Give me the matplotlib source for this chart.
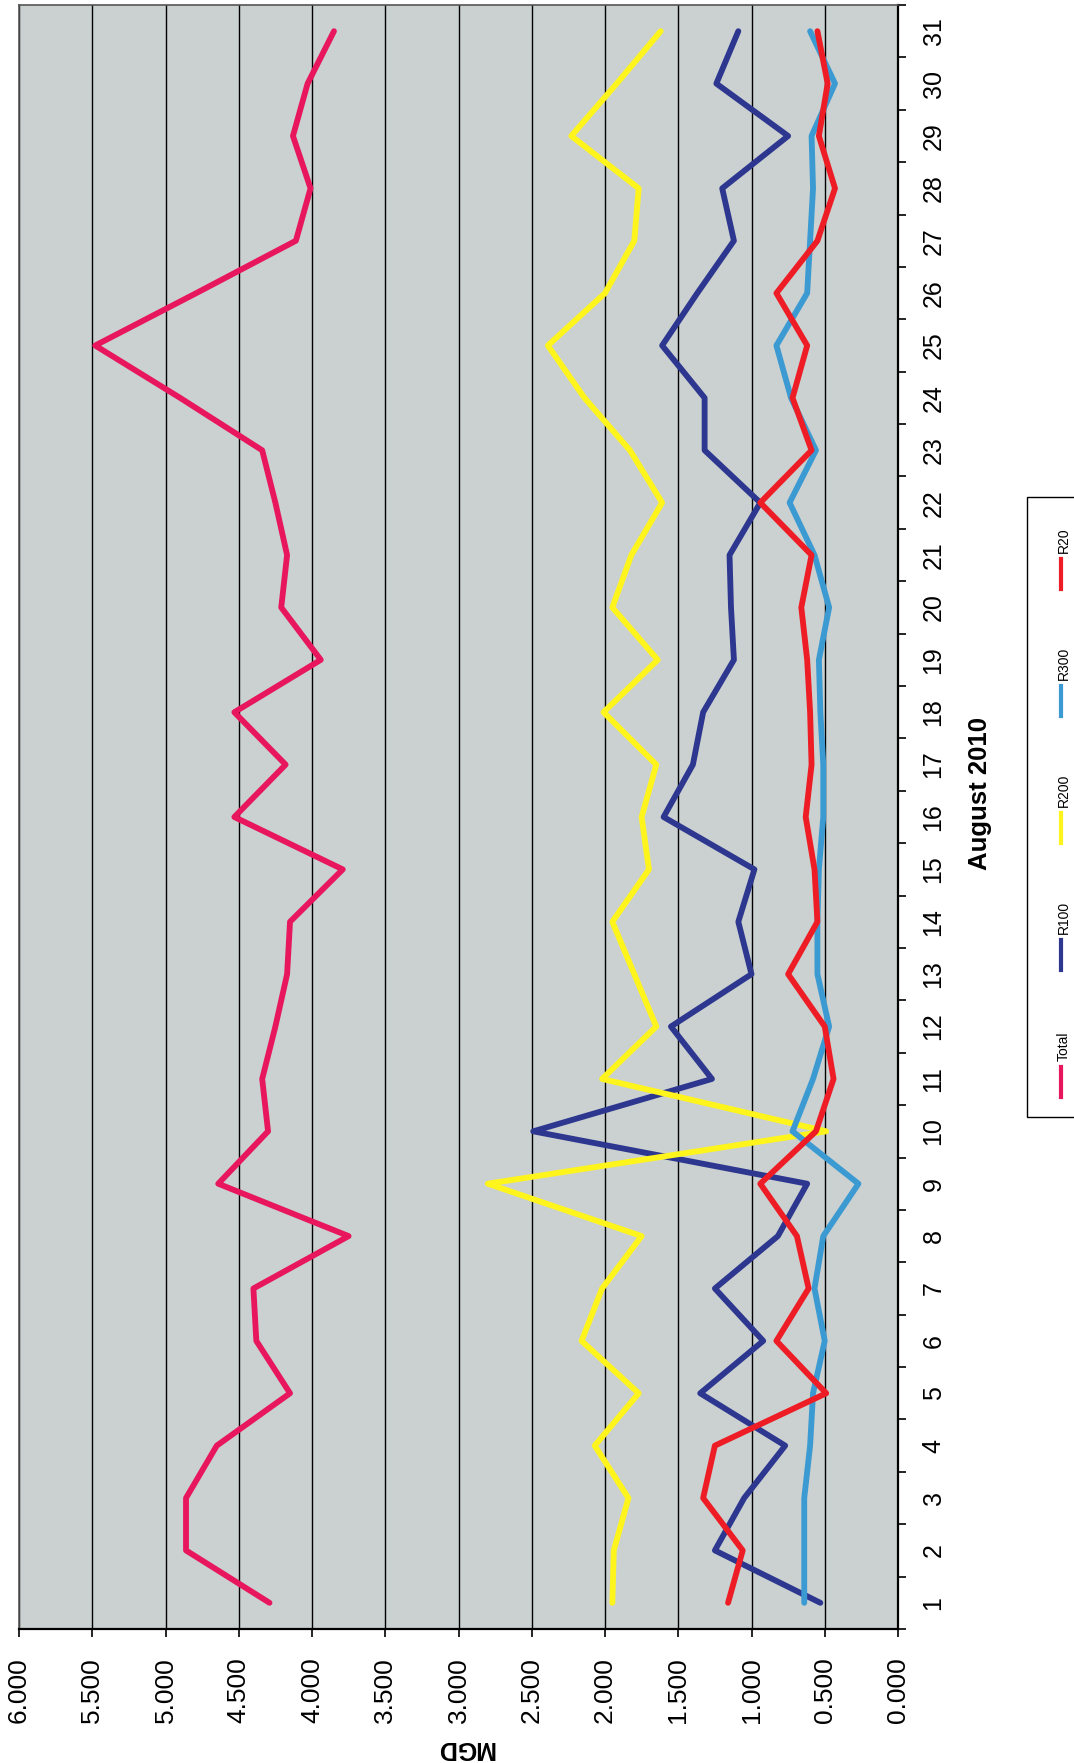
import matplotlib
matplotlib.use("Agg")
import matplotlib.pyplot as plt
from matplotlib.lines import Line2D
from matplotlib.patches import Rectangle
import numpy as np

plt.rcParams['font.family'] = ['Liberation Sans', 'DejaVu Sans']

days = list(range(1, 32))
day_labels = [str(d) for d in days]
mgd_ticks = [0.0, 0.5, 1.0, 1.5, 2.0, 2.5, 3.0, 3.5, 4.0, 4.5, 5.0, 5.5, 6.0]

total = [4.29, 4.86, 4.86, 4.65, 4.15, 4.38, 4.40, 3.75, 4.64, 4.30, 4.34,
         4.25, 4.17, 4.15, 3.79, 4.53, 4.18, 4.53, 3.94, 4.21, 4.17, 4.25,
         4.34, 4.90, 5.48, 4.79, 4.11, 4.01, 4.13, 4.03, 3.85]
r100 = [0.53, 1.25, 1.05, 0.77, 1.35, 0.92, 1.25, 0.82, 0.62, 2.49, 1.27,
        1.55, 1.00, 1.09, 0.98, 1.60, 1.40, 1.33, 1.12, 1.14, 1.15, 0.94,
        1.32, 1.32, 1.61, 1.37, 1.12, 1.20, 0.75, 1.24, 1.09]
r200 = [1.95, 1.94, 1.84, 2.07, 1.77, 2.16, 2.02, 1.75, 2.80, 0.49, 2.02,
        1.65, 1.80, 1.95, 1.70, 1.75, 1.65, 2.01, 1.64, 1.95, 1.82, 1.61,
        1.83, 2.14, 2.39, 2.00, 1.80, 1.77, 2.23, 1.92, 1.62]
r300 = [0.64, 0.64, 0.64, 0.60, 0.58, 0.50, 0.57, 0.51, 0.27, 0.72, 0.58,
        0.47, 0.55, 0.55, 0.54, 0.51, 0.51, 0.53, 0.54, 0.47, 0.57, 0.74,
        0.56, 0.73, 0.83, 0.62, 0.60, 0.58, 0.59, 0.43, 0.60]
r20 = [1.16, 1.06, 1.33, 1.25, 0.49, 0.83, 0.61, 0.69, 0.94, 0.56, 0.44,
       0.50, 0.75, 0.55, 0.57, 0.63, 0.59, 0.60, 0.62, 0.66, 0.59, 0.94,
       0.59, 0.72, 0.62, 0.83, 0.55, 0.43, 0.54, 0.48, 0.55]

series_names = ["Total", "R100", "R200", "R300", "R20"]
series_values = [total, r100, r200, r300, r20]
series_colors = ["#e8175d", "#2e3790", "#fff51c", "#3c9ad2", "#ee1c25"]

W, H = 1074, 1763
fig = plt.figure(figsize=(W / 100, H / 100), dpi=100)
fig.patch.set_facecolor("white")


def fx(px):
    return px / W


def fy(py):
    return 1 - py / H


# The chart is laid out sideways: MGD runs right-to-left along the bottom,
# the days of the month run upward along the right side.
ax_l, ax_r, ax_t, ax_b = 19, 898, 5, 1629
ax = fig.add_axes([fx(ax_l), fy(ax_b), fx(ax_r - ax_l), (ax_b - ax_t) / H])
ax.set_facecolor("#cad1d0")

for name, vals, col in zip(series_names, series_values, series_colors):
    ax.plot(vals, days, color=col, lw=4.2, solid_capstyle="round",
            solid_joinstyle="round", label=name)

ax.set_xlim(6, 0)
ax.set_ylim(0.5, 31.5)

# MGD axis
ax.set_xticks(mgd_ticks)
ax.set_xticklabels([f"{v:.3f}" for v in mgd_ticks], rotation=90, fontsize=19)
ax.tick_params(axis="x", direction="out", length=6, width=1.2, pad=14,
               colors="black")
ax.grid(axis="x", color="black", lw=1.0)
ax.set_axisbelow(True)

# day axis: ticks between days, labels centred on each day
ax.yaxis.tick_right()
ax.set_yticks(np.arange(0.5, 32, 1.0))
ax.set_yticklabels([])
ax.set_yticks(days, minor=True)
ax.set_yticklabels(day_labels, minor=True, rotation=90, fontsize=18,
                   va="center", ha="left")
ax.tick_params(axis="y", which="major", direction="out", length=6, width=1.2,
               right=True, left=False)
ax.tick_params(axis="y", which="minor", length=0, pad=17, right=True,
               left=False)

for side in ["left", "top"]:
    ax.spines[side].set_color("#555555")
    ax.spines[side].set_linewidth(1.2)
for side in ["bottom", "right"]:
    ax.spines[side].set_color("black")
    ax.spines[side].set_linewidth(1.6)

fig.text(fx(465), fy(1748), "MGD", rotation=180, fontsize=18,
         fontweight="bold", ha="center", va="center")
fig.text(fx(980), fy(793), "August 2010", rotation=90, fontsize=18.5,
         fontweight="bold", ha="center", va="center")

# legend box, entries stacked upward
fig.patches.append(Rectangle((fx(1027), fy(1117)), fx(60), (1117 - 497) / H,
                             transform=fig.transFigure, facecolor="white",
                             edgecolor="black", lw=1.0, zorder=5))
entry_base = 1097
entry_step = 127
for i, (name, col) in enumerate(zip(series_names, series_colors)):
    y0 = entry_base - i * entry_step
    fig.lines.append(Line2D([fx(1061), fx(1061)], [fy(y0), fy(y0 - 30)],
                            transform=fig.transFigure, color=col, lw=3.0,
                            zorder=6))
    fig.text(fx(1064), fy(y0 - 36), name, rotation=90, fontsize=10,
             ha="center", va="bottom", zorder=7)

fig.savefig("out.png", dpi=100, facecolor="white")
